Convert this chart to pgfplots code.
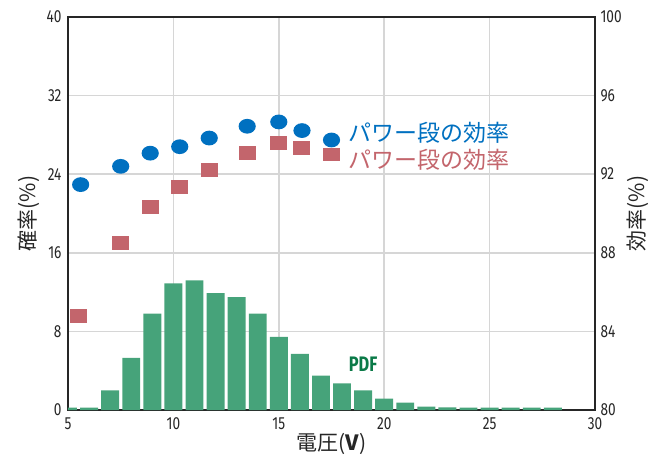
\documentclass[border=0pt]{standalone}
\usepackage{fontspec}
\setmainfont{Fira Sans}[FakeStretch=0.78]
\newfontfamily\jp{Noto Sans CJK JP}
\usepackage{pgfplots}
\pgfplotsset{compat=1.18}

\definecolor{barg}{HTML}{46A37A}
\definecolor{pdfg}{HTML}{0B7A48}
\definecolor{effb}{HTML}{0070C0}
\definecolor{effr}{HTML}{C3656C}
\definecolor{gridc}{HTML}{D6D6D6}
\definecolor{framec}{HTML}{262626}

% slightly flattened marks, as in the reference
\pgfdeclareplotmark{ell}{%
  \pgfpathellipse{\pgfpointorigin}{\pgfpoint{8.6bp}{0bp}}{\pgfpoint{0bp}{7.4bp}}%
  \pgfusepathqfill}
\pgfdeclareplotmark{rect}{%
  \pgfpathrectanglecorners{\pgfpoint{-8.5bp}{-6.9bp}}{\pgfpoint{8.5bp}{6.9bp}}%
  \pgfusepathqfill}

\pgfplotsset{
  common/.style={
    scale only axis, width=527bp, height=393bp,
    xmin=5, xmax=30,
    tick style={draw=none},
    ticklabel style={font=\fontsize{17.5bp}{20bp}\selectfont, text=framec},
    /pgf/number format/assume math mode=true,
    axis line style={line width=1.8bp, draw=framec},
    label style={font=\jp\fontsize{21bp}{24bp}\selectfont, text=framec},
  }
}

\begin{document}
\begin{tikzpicture}
\begin{axis}[common, name=ax,
    ymin=0, ymax=40,
    xtick={5,10,...,30}, ytick={0,8,...,40},
    yticklabel style={xshift=-3bp},
    grid=major, grid style={line width=1.6bp, draw=gridc},
    xlabel={電圧(\textbf{V})}, ylabel={確率(\%)},
    xlabel style={yshift=3bp},
    ylabel style={yshift=0bp},
    ybar, bar width=0.85, bar shift=0pt,
  ]
  \addplot[draw=none, fill=barg] coordinates {
    (5,0.25) (6,0.25) (7,2.0) (8,5.3) (9,9.8) (10,12.9) (11,13.2) (12,11.9)
    (13,11.5) (14,9.8) (15,7.45) (16,5.7) (17,3.5) (18,2.7) (19,2.0) (20,1.15)
    (21,0.75) (22,0.35) (23,0.28) (24,0.25) (25,0.25) (26,0.25) (27,0.25) (28,0.25)
  };
  \node[text=pdfg, font=\bfseries\fontsize{21bp}{24bp}\selectfont] at (axis cs:19.0,4.7) {PDF};
\end{axis}

\begin{axis}[common,
    ymin=80, ymax=100, ytick={80,84,...,100},
    axis x line=none, axis y line*=right,
    yticklabel style={xshift=2bp},
    ylabel={効率(\%)},
    ylabel style={yshift=2bp},
    clip=false,
  ]
  \addplot[only marks, mark=ell, color=effb] coordinates {
    (5.6,91.47) (7.5,92.4) (8.9,93.07) (10.3,93.4) (11.7,93.84)
    (13.5,94.44) (15.0,94.66) (16.1,94.22) (17.5,93.74)
  };
  \addplot[only marks, mark=rect, color=effr] coordinates {
    (5.5,84.78) (7.5,88.49) (8.9,90.34) (10.3,91.35) (11.7,92.2)
    (13.5,93.09) (15.0,93.6) (16.1,93.35) (17.5,93.0)
  };
  \node[anchor=west, inner sep=0pt, text=effb, font=\jp\fontsize{23bp}{26bp}\selectfont] at (axis cs:18.3,94.1) {パワー段の効率};
  \node[anchor=west, inner sep=0pt, text=effr, font=\jp\fontsize{23bp}{26bp}\selectfont] at (axis cs:18.3,92.72) {パワー段の効率};
\end{axis}

\pgfresetboundingbox
\path[use as bounding box] ([xshift=-68bp,yshift=-57bp]ax.south west) rectangle ([xshift=57bp,yshift=17bp]ax.north east);
\end{tikzpicture}
\end{document}
